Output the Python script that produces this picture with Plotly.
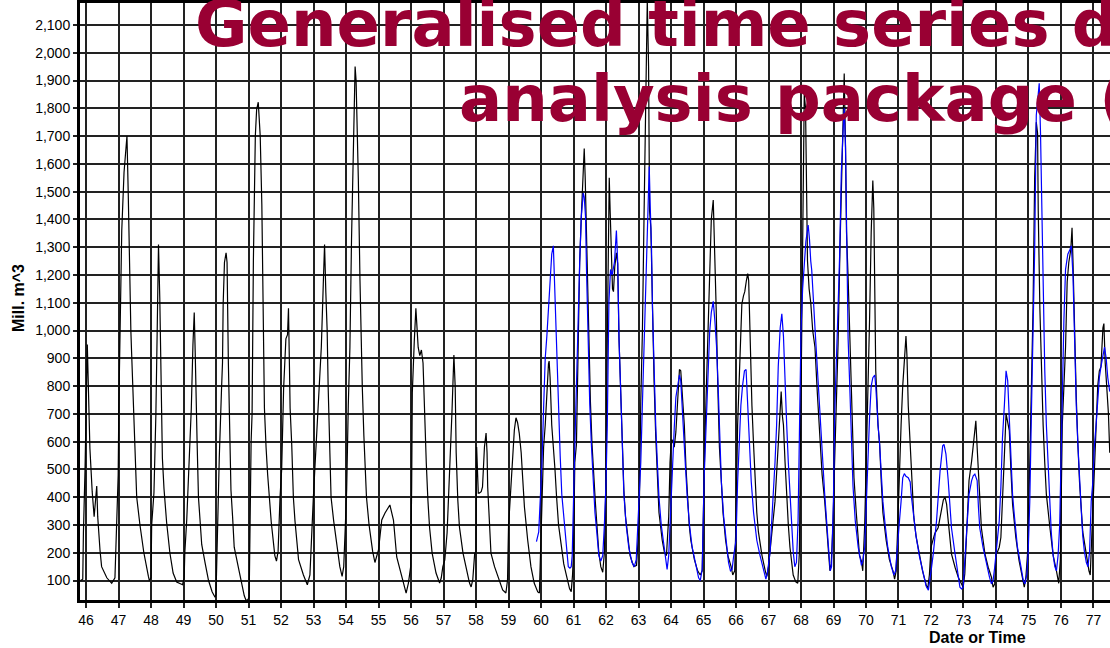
import plotly.graph_objects as go

# ---------------- data ----------------
years = list(range(46, 78))
year_labels = [str(y) for y in years]
y_ticks = list(range(100, 2200, 100))

# observed series (black): (time in years, Mill. m^3)
observed = [
    (45.83,100),(45.90,105),(45.92,270),(45.97,500),(46.04,950),(46.07,800),(46.12,575),(46.19,420),(46.25,330),(46.33,440),(46.36,330),(46.43,210),(46.48,150),(46.64,110),(46.79,90),(46.89,110),(46.94,300),
    (46.99,480),(47.01,730),(47.05,1020),(47.10,1360),(47.17,1570),(47.22,1650),(47.26,1700),(47.30,1490),(47.34,1170),(47.38,1000),(47.40,930),(47.46,700),(47.51,510),(47.56,400),(47.66,300),(47.78,200),(47.92,115),(47.95,100),
    (48.00,110),(48.02,300),(48.09,415),(48.15,700),(48.19,1000),(48.23,1310),(48.27,1115),(48.31,760),(48.35,540),(48.40,430),(48.48,310),(48.58,200),(48.68,127),(48.79,95),(48.90,90),(48.97,85),
    (49.02,110),(49.04,200),(49.10,320),(49.17,530),(49.24,720),(49.29,950),(49.33,1065),(49.36,920),(49.39,700),(49.42,590),(49.46,400),(49.51,320),(49.56,230),(49.67,160),(49.77,100),(49.88,60),(49.97,40),
    (50.00,50),(50.02,175),(50.05,310),(50.10,540),(50.17,790),(50.20,885),(50.22,1095),(50.26,1245),(50.31,1280),(50.34,1245),(50.38,885),(50.41,745),(50.44,540),(50.46,425),(50.51,330),(50.56,220),(50.71,135),(50.82,70),(50.87,45),(50.92,30),
    (50.97,30),(51.02,40),(51.04,330),(51.08,600),(51.11,700),(51.15,1250),(51.21,1700),(51.25,1795),(51.30,1822),(51.36,1700),(51.41,1455),(51.46,1010),(51.49,720),(51.54,580),(51.59,480),(51.70,310),(51.81,190),(51.86,170),(51.91,205),(51.97,400),
    (52.02,500),(52.08,790),(52.15,970),(52.20,985),(52.23,1080),(52.26,870),(52.28,720),(52.33,590),(52.38,400),(52.43,315),(52.54,175),(52.69,120),(52.81,85),(52.89,120),(52.94,275),(52.99,385),
    (53.04,500),(53.10,640),(53.16,760),(53.24,940),(53.30,1165),(53.34,1310),(53.38,1135),(53.42,1000),(53.45,800),(53.49,605),(53.54,400),(53.62,315),(53.71,230),(53.81,150),(53.88,115),(53.93,150),(53.98,300),
    (54.02,425),(54.07,730),(54.12,940),(54.17,1330),(54.22,1650),(54.28,1950),(54.31,1900),(54.35,1700),(54.38,1540),(54.43,1180),(54.46,985),(54.50,800),(54.55,620),(54.63,400),(54.71,300),(54.82,205),(54.89,165),(54.94,185),
    (55.00,210),(55.10,318),(55.20,343),(55.35,372),(55.46,318),(55.56,185),(55.66,138),(55.77,91),(55.85,55),(55.92,91),(55.99,150),
    (56.02,438),(56.04,776),(56.10,960),(56.15,1080),(56.19,1000),(56.22,940),(56.27,910),(56.32,930),(56.37,883),(56.42,653),(56.47,523),(56.52,390),(56.57,293),(56.65,199),(56.77,127),(56.88,91),(56.93,109),(56.98,150),
    (57.04,174),(57.11,271),(57.17,415),(57.21,560),(57.26,704),(57.29,797),(57.32,912),(57.36,797),(57.39,560),(57.44,390),(57.49,293),(57.60,199),(57.70,138),(57.80,91),(57.85,77),(57.90,102),(57.96,199),
    (58.00,199),(58.02,581),(58.07,415),(58.10,415),(58.16,420),(58.20,437),(58.26,581),(58.31,631),(58.34,560),(58.36,437),(58.41,307),(58.46,199),(58.57,150),(58.67,113),(58.82,66),(58.92,55),(58.97,102),
    (59.00,293),(59.03,350),(59.08,487),(59.13,581),(59.18,642),(59.23,686),(59.28,668),(59.33,631),(59.39,560),(59.44,462),(59.49,365),(59.59,246),(59.69,150),(59.79,91),(59.90,59),(59.95,55),
    (59.98,200),(60.00,300),(60.03,400),(60.08,580),(60.13,660),(60.18,800),(60.23,880),(60.25,890),(60.28,830),(60.33,660),(60.38,590),(60.43,500),(60.48,400),(60.54,300),(60.62,230),(60.70,160),(60.80,110),(60.88,70),(60.93,60),
    (60.97,120),(61.00,200),(61.04,525),(61.09,590),(61.14,910),(61.19,1245),(61.24,1410),(61.29,1580),(61.33,1655),(61.36,1550),(61.38,1440),(61.42,1195),(61.47,945),(61.52,745),(61.57,590),(61.62,470),(61.67,385),(61.72,300),(61.78,200),(61.84,150),(61.90,130),(61.95,200),
    (62.00,470),(62.04,970),(62.07,1275),(62.10,1550),(62.13,1420),(62.16,1265),(62.20,1150),(62.23,1140),(62.27,1230),(62.32,1280),(62.36,1240),(62.40,970),(62.45,790),(62.50,590),(62.55,425),(62.60,330),(62.66,260),(62.74,190),(62.81,165),(62.86,150),(62.94,155),(62.99,245),
    (63.02,315),(63.07,745),(63.12,995),(63.17,1410),(63.23,1900),(63.27,2190),(63.31,1950),(63.34,1430),(63.38,1370),(63.43,1050),(63.48,815),(63.53,620),(63.58,470),(63.63,345),(63.73,245),(63.80,200),(63.86,190),(63.93,330),(63.97,525),
    (64.01,606),(64.05,605),(64.10,580),(64.15,635),(64.20,735),(64.26,860),(64.30,855),(64.36,735),(64.41,660),(64.46,510),(64.51,385),(64.56,300),(64.61,245),(64.72,175),(64.82,135),(64.90,120),(64.96,135),(65.00,425),
    (65.04,590),(65.09,800),(65.14,1020),(65.19,1220),(65.24,1400),(65.30,1470),(65.34,1330),(65.39,1080),(65.44,800),(65.49,580),(65.55,455),(65.60,345),(65.68,245),(65.75,190),(65.85,150),(65.90,120),(65.96,135),
    (66.00,315),(66.05,660),(66.10,810),(66.15,995),(66.18,1095),(66.23,1125),(66.27,1140),(66.32,1180),(66.36,1205),(66.39,1180),(66.44,945),(66.49,730),(66.54,590),(66.59,455),(66.64,345),(66.69,275),(66.80,190),(66.90,135),(66.95,115),
    (67.00,150),(67.05,205),(67.10,275),(67.20,385),(67.30,590),(67.35,730),(67.39,780),(67.43,690),(67.46,660),(67.51,525),(67.56,385),(67.61,300),(67.66,220),(67.71,165),(67.76,120),(67.84,95),(67.90,90),
    (67.95,200),(67.99,700),(68.02,830),(68.04,1245),(68.07,1600),(68.10,1850),(68.14,1800),(68.17,1500),(68.20,1250),(68.25,1150),(68.30,1100),(68.36,1000),(68.43,940),(68.50,780),(68.58,620),(68.65,480),(68.73,385),(68.84,190),(68.89,135),(68.93,160),
    (68.97,250),(68.99,315),(69.02,470),(69.08,700),(69.14,950),(69.20,1300),(69.26,1600),(69.33,1925),(69.37,1660),(69.40,1355),(69.45,1190),(69.50,970),(69.57,660),(69.63,470),(69.70,345),(69.80,190),(69.86,170),(69.90,135),
    (69.96,300),(70.01,525),(70.06,800),(70.11,1040),(70.16,1355),(70.21,1540),(70.24,1440),(70.27,1055),(70.30,855),(70.37,660),(70.42,590),(70.47,455),(70.52,345),(70.62,245),(70.72,175),(70.83,135),(70.88,105),(70.93,135),
    (70.98,315),(71.03,525),(71.08,660),(71.13,800),(71.18,900),(71.23,980),(71.26,910),(71.30,730),(71.36,590),(71.41,455),(71.47,330),(71.54,260),(71.64,190),(71.74,135),(71.85,85),(71.90,70),(71.95,120),
    (72.00,220),(72.07,250),(72.12,270),(72.22,290),(72.33,365),(72.38,390),(72.43,400),(72.48,375),(72.53,315),(72.58,255),(72.63,196),(72.74,148),(72.84,112),(72.94,88),(72.99,76),
    (73.04,124),(73.11,315),(73.17,460),(73.25,530),(73.30,580),(73.35,650),(73.38,675),(73.42,580),(73.46,495),(73.50,375),(73.55,290),(73.66,196),(73.76,148),(73.86,112),(73.91,76),(73.96,88),
    (74.00,196),(74.05,205),(74.10,220),(74.15,255),(74.20,375),(74.26,555),(74.31,700),(74.36,675),(74.41,640),(74.46,495),(74.51,375),(74.56,315),(74.61,255),(74.71,172),(74.82,100),(74.87,76),(74.92,112),(74.97,196),
    (75.04,525),(75.09,800),(75.14,1080),(75.19,1550),(75.24,1750),(75.28,1710),(75.30,1430),(75.35,1080),(75.40,830),(75.45,660),(75.50,525),(75.55,410),(75.65,300),(75.76,190),(75.86,135),(75.93,90),(75.98,175),
    (76.01,400),(76.04,660),(76.09,800),(76.14,940),(76.19,1175),(76.24,1245),(76.30,1290),(76.34,1370),(76.37,1245),(76.42,940),(76.47,760),(76.52,590),(76.57,455),(76.67,275),(76.78,190),(76.86,135),(76.90,120),(76.95,275),
    (76.98,385),(77.03,525),(77.08,660),(77.13,800),(77.18,855),(77.23,870),(77.29,1010),(77.32,1025),(77.36,885),(77.40,800),(77.46,700),(77.50,560),
]

# simulated series (blue)
simulated = [
    (59.86,240),(59.93,275),(59.98,400),(60.03,525),(60.08,720),(60.13,900),(60.18,980),(60.23,1080),(60.28,1195),(60.33,1275),(60.38,1305),(60.41,1195),(60.45,1000),(60.48,870),(60.54,690),(60.59,550),(60.64,410),(60.72,300),(60.79,220),(60.84,150),(60.89,145),
    (60.93,150),(60.96,190),(60.99,385),(61.04,580),(61.09,800),(61.14,1080),(61.19,1245),(61.24,1410),(61.30,1495),(61.33,1480),(61.37,1410),(61.40,1220),(61.45,945),(61.50,735),(61.55,590),(61.60,470),(61.66,345),(61.72,270),(61.78,190),(61.84,170),(61.90,190),(61.95,300),
    (62.00,450),(62.04,660),(62.09,1105),(62.14,1220),(62.19,1200),(62.26,1245),(62.32,1360),(62.36,1245),(62.40,970),(62.45,790),(62.50,580),(62.55,410),(62.62,300),(62.70,220),(62.80,165),(62.87,150),(62.93,175),(62.98,315),
    (63.02,385),(63.07,525),(63.12,735),(63.17,945),(63.23,1220),(63.28,1410),(63.33,1590),(63.36,1450),(63.40,1300),(63.43,1080),(63.48,815),(63.53,660),(63.58,525),(63.63,400),(63.70,300),(63.77,230),(63.83,175),(63.88,140),(63.93,190),
    (64.00,390),(64.05,560),(64.10,650),(64.15,760),(64.20,800),(64.26,840),(64.30,820),(64.35,700),(64.40,600),(64.45,500),(64.50,400),(64.57,300),(64.65,220),(64.75,160),(64.85,110),(64.90,100),(64.96,140),
    (65.02,470),(65.09,690),(65.14,885),(65.19,995),(65.24,1065),(65.30,1105),(65.35,1035),(65.40,945),(65.45,800),(65.50,590),(65.55,455),(65.62,330),(65.70,230),(65.77,165),(65.83,135),(65.88,140),(65.93,190),
    (66.00,245),(66.05,455),(66.10,620),(66.15,730),(66.20,800),(66.26,855),(66.31,860),(66.36,730),(66.41,590),(66.47,455),(66.54,345),(66.64,245),(66.74,190),(66.85,135),(66.92,105),
    (66.97,130),(67.05,205),(67.10,315),(67.15,410),(67.20,525),(67.25,660),(67.30,870),(67.36,1010),(67.41,1060),(67.46,980),(67.51,800),(67.56,660),(67.61,525),(67.66,410),(67.71,315),(67.76,205),(67.81,150),(67.86,165),
    (67.91,315),(67.96,800),(68.00,1000),(68.05,1150),(68.10,1250),(68.15,1320),(68.22,1380),(68.26,1330),(68.30,1250),(68.33,1218),(68.43,1010),(68.53,800),(68.63,620),(68.73,410),(68.84,230),(68.90,135),(68.94,150),
    (69.00,400),(69.04,715),(69.10,900),(69.14,1080),(69.19,1275),(69.24,1565),(69.30,1730),(69.33,1800),(69.37,1660),(69.40,1390),(69.45,970),(69.50,800),(69.55,620),(69.60,440),(69.67,315),(69.76,220),(69.86,155),(69.90,170),
    (69.96,220),(70.01,385),(70.06,590),(70.11,690),(70.16,800),(70.21,830),(70.27,840),(70.30,800),(70.37,660),(70.42,590),(70.47,485),(70.52,385),(70.59,300),(70.67,220),(70.78,150),(70.86,120),(70.91,135),(70.96,220),
    (71.03,315),(71.08,385),(71.13,470),(71.18,485),(71.23,475),(71.30,470),(71.36,455),(71.39,410),(71.47,330),(71.54,260),(71.64,190),(71.74,135),(71.85,80),(71.92,65),(71.97,100),
    (72.02,150),(72.07,196),(72.17,315),(72.28,495),(72.36,585),(72.40,590),(72.46,555),(72.53,460),(72.58,365),(72.63,290),(72.74,196),(72.84,112),(72.89,76),(72.94,70),(72.99,76),
    (73.04,172),(73.11,290),(73.17,410),(73.25,460),(73.30,477),(73.35,483),(73.42,460),(73.46,365),(73.50,290),(73.60,220),(73.70,160),(73.80,112),(73.86,88),(73.91,100),(73.96,148),
    (74.00,196),(74.10,315),(74.15,435),(74.20,615),(74.26,735),(74.31,855),(74.36,820),(74.41,675),(74.46,495),(74.51,410),(74.56,340),(74.66,220),(74.77,148),(74.84,100),(74.89,88),(74.95,124),
    (74.99,200),(75.04,385),(75.09,705),(75.14,970),(75.19,1290),(75.24,1775),(75.30,1870),(75.33,1890),(75.37,1710),(75.40,1500),(75.45,1080),(75.50,860),(75.55,660),(75.60,525),(75.65,400),(75.70,275),(75.76,190),(75.81,150),(75.86,135),(75.91,190),
    (75.96,300),(76.04,770),(76.09,1040),(76.14,1220),(76.21,1275),(76.27,1290),(76.32,1305),(76.37,1195),(76.42,900),(76.47,730),(76.52,590),(76.57,455),(76.62,360),(76.67,260),(76.72,205),(76.78,165),(76.83,150),(76.88,205),(76.93,385),
    (76.98,455),(77.03,590),(77.08,660),(77.13,760),(77.18,830),(77.23,870),(77.29,910),(77.34,940),(77.39,900),(77.44,830),(77.50,780),
]

title_line1 = "Generalised time series d"
title_line2 = "analysis package ("
x_title = "Date or Time"
y_title = "Mill. m^3"

obs_t = [p[0] for p in observed]
obs_v = [p[1] for p in observed]
sim_t = [p[0] for p in simulated]
sim_v = [p[1] for p in simulated]

# ---------------- figure ----------------
W, H = 1110, 648
L, R, T, B = 80, 0, 3, 48
PW, PH = W - L - R, H - T - B

def px_x(px):
    return (px - L) / PW

def px_y(py):
    return (H - B - py) / PH

fig = go.Figure()
fig.add_trace(go.Scatter(x=obs_t, y=obs_v, mode="lines",
                         line=dict(color="black", width=1.2),
                         hoverinfo="skip", showlegend=False))
fig.add_trace(go.Scatter(x=sim_t, y=sim_v, mode="lines",
                         line=dict(color="#0000ff", width=1.2),
                         hoverinfo="skip", showlegend=False))

grid = "#222222"
fig.update_layout(
    width=W, height=H,
    margin=dict(l=L, r=R, t=T, b=B, pad=0),
    paper_bgcolor="white", plot_bgcolor="white",
    showlegend=False,
    font=dict(family="Liberation Sans, Arial, sans-serif", size=14, color="black"),
)
fig.update_xaxes(
    range=[45.815, 77.508], tickmode="array", tickvals=years, ticktext=year_labels,
    showgrid=True, gridcolor=grid, gridwidth=2,
    showline=True, linecolor="black", linewidth=3, mirror=True,
    ticks="outside", ticklen=5, tickwidth=2, tickcolor=grid,
    zeroline=False, tickfont=dict(size=14),
)
fig.update_yaxes(
    range=[30, 2179], tickmode="array", tickvals=y_ticks, tickformat=",d",
    showgrid=True, gridcolor=grid, gridwidth=2,
    showline=True, linecolor="black", linewidth=3,
    ticks="outside", ticklen=4, tickwidth=2, tickcolor=grid,
    zeroline=False, tickfont=dict(size=14),
)

title_font = dict(family="DejaVu Sans, Verdana, sans-serif", size=64, color="#990033")
fig.add_annotation(text="<b>" + title_line1 + "</b>", xref="paper", yref="paper",
                   x=px_x(193), y=px_y(24), xanchor="left", yanchor="middle",
                   showarrow=False, font=title_font)
fig.add_annotation(text="<b>" + title_line2 + "</b>", xref="paper", yref="paper",
                   x=px_x(457), y=px_y(99), xanchor="left", yanchor="middle",
                   showarrow=False, font=title_font)
fig.add_annotation(text="<b>" + x_title + "</b>", xref="paper", yref="paper",
                   x=px_x(977), y=px_y(637), xanchor="center", yanchor="middle",
                   showarrow=False, font=dict(size=16, color="black"))
fig.add_annotation(text="<b>" + y_title + "</b>", xref="paper", yref="paper",
                   x=px_x(18), y=px_y(298), xanchor="center", yanchor="middle",
                   textangle=-90, showarrow=False, font=dict(size=16, color="black"))

fig.write_html("out.html")
